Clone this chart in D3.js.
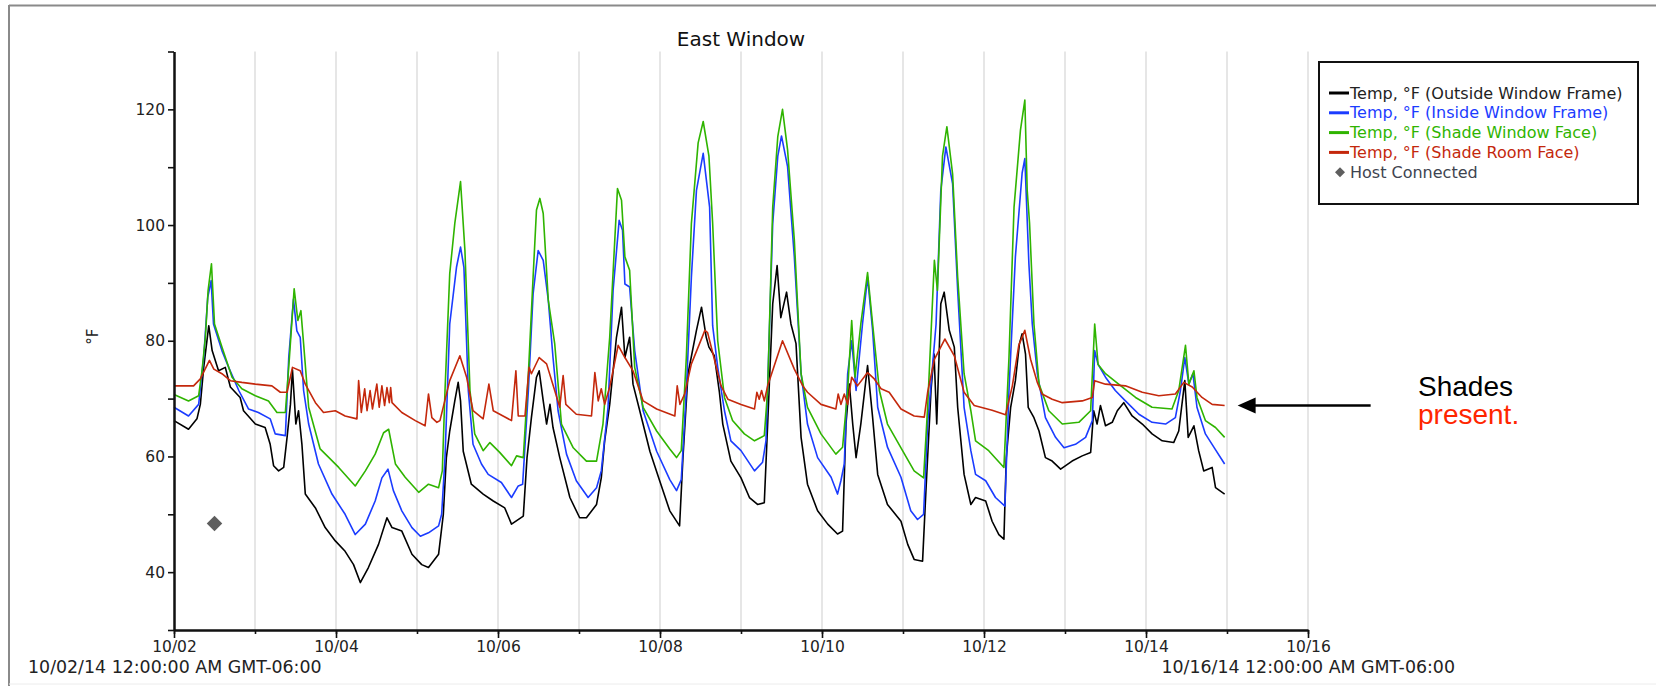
<!DOCTYPE html>
<html>
<head>
<meta charset="utf-8">
<script src="https://cdn.jsdelivr.net/npm/d3@7"></script>
<style>
  body { margin: 0; background: #fff; }
  text { font-family: "DejaVu Sans", sans-serif; }
</style>
</head>
<body>
<div id="chart"></div>
<script>
// Data: [hours since 10/02/14 00:00, °F]
// ================================
var outsideFrame = [[0,66.2],[4.3,64.7],[6.8,66.5],[7.8,69],[8.8,75.4],[10.3,82.6],[11.3,78.3],[13.2,74.8],[15.2,75.4],[16.7,72],[19.6,70.2],[20.6,67.9],[24.1,65.6],[27,65],[28.5,62.1],[29.5,58.4],[31,57.5],[32.5,58.1],[33.5,63.3],[34.5,69],[35.1,75],[36.1,65.6],[36.9,67.9],[37.9,62.1],[38.9,53.5],[41.9,51.1],[44.8,47.7],[47.8,45.4],[50.7,43.6],[53.2,41.3],[55.2,38.2],[57.6,40.8],[60.6,44.8],[63.1,49.4],[64.6,47.7],[67.5,47.1],[70.5,43.1],[73.4,41.3],[75.4,40.8],[78.4,43.1],
  [79.8,50],[80.7,59.8],[81.7,64.4],[83.2,69.6],[84.2,72.8],[84.9,69.6],[85.7,60.9],[88.1,55.2],[91.6,53.5],[94.6,52.3],[98,51.1],[100,48.3],[103.5,49.7],[104.6,59.8],[105.9,66.7],[107.4,73.7],[108.2,74.8],[109.4,69.6],[110.4,65.6],[111.4,69],[112.3,65],[114.3,59.8],[117.3,52.9],[120.2,49.4],[122.2,49.4],[125.2,51.7],[126.6,56.3],[127.6,62.7],[129.1,69],[131.1,80.6],[132.6,85.8],[133.6,77.1],[135,80.6],[136,72.5],[138,67.9],[141,60.9],[143.9,55.8],[146.9,50.6],[149.8,48],[150.8,59.8],[152.3,74.3],[154.8,81.8],[156.3,85.8],[157.7,80.6],[158.5,78.9],
  [160.1,77.4],[161.6,71.1],[162.6,65.6],[165,59.2],[168,56.3],[170.5,52.9],[172.9,51.7],[174.9,52],[175.9,65.6],[177.4,86.4],[178.7,93],[179.8,84],[181.5,88.4],[182.8,82.9],[184.3,79.5],[185.8,63.3],[187.7,55.2],[190.7,50.6],[193.7,48.3],[196.6,46.6],[198.1,47.1],[199.1,65.6],[200.1,72.5],[201.1,65.6],[202.1,59.8],[203.5,65.6],[205.5,75.7],[207,66.7],[208.5,56.9],[211.4,51.7],[215.4,48.8],[217.4,44.8],[219.3,42.2],[221.8,41.9],[222.8,54.1],[224.3,71.4],[225.2,77.7],[226,65.6],[227.2,86.4],[228.2,88.4],[229.7,81.8],[231.2,78.9],[232.2,68.5],[234.1,56.9],[236.1,51.7],
  [237.5,52.9],[240.5,52.3],[242.4,48.8],[244.4,46.5],[245.9,45.7],[246.6,59.8],[247.9,68.5],[249.3,73.1],[250.5,79.5],[251.3,81.2],[252.3,77.7],[253.1,68.5],[254.8,66.7],[256.3,64.4],[258.2,59.8],[260.2,59.2],[262.7,57.8],[266.1,59.2],[269.1,60.1],[271.6,60.7],[272.5,67.9],[273.5,65.6],[274.5,68.8],[276,65.3],[278,65.9],[279.5,67.9],[281.4,69.3],[283.9,67],[286.9,65.6],[289.8,63.9],[292.8,62.7],[296.2,62.4],[297.7,64.4],[299.5,73.1],[300.5,63.3],[302.2,65.3],[303.6,61],[305.1,57.5],[307.6,58.1],[308.6,54.6],[311.3,53.5]];

var insideFrame = [[0,68.5],[4.3,67],[7.3,69],[8.8,77.1],[10,87.5],[11,90.4],[11.7,82.9],[14.2,78.3],[16.2,75.4],[19.2,71.4],[22.1,68.2],[25,67.6],[28.5,66.5],[30,63.9],[33,63.6],[34,77.1],[35.4,87.2],[36.4,81.7],[37.4,80.6],[38.4,71.4],[39.9,65.6],[42.8,58.7],[46.8,53.5],[50.7,50],[53.7,46.5],[56.7,48.3],[59.6,52.3],[61.6,56.3],[63.4,57.8],[65,54.1],[67.5,50.6],[70.5,47.7],[73,46.2],[75.4,46.8],[78.4,48],
  [79.3,50],[80.3,59.8],[81.7,82.9],[83.7,92.7],[84.9,96.2],[85.9,92.7],[87.2,71.4],[88.6,62.1],[91.1,58.7],[93.1,56.9],[97,55.5],[100,52.9],[102,54.9],[103.3,55.2],[105,71.4],[106.4,88.1],[107.9,95.6],[109.4,93.9],[110.9,87],[112.3,77.1],[113.8,67.9],[116.3,60.4],[119.2,55.8],[122.7,52.9],[125.2,54.6],[126.6,57.5],[128.6,68.5],[130.1,88.7],[131.9,100.8],[132.9,99.1],[133.6,89.8],[135,89.3],[136.5,78.3],[139,67.9],[143,60.9],[146.9,56],[148.9,54.1],[150.3,56],[151.8,71.4],[153.3,91],[154.8,106],[156.8,112.4],[158.7,103.1],
  [159.6,82.6],[161.1,75.4],[163.1,67.9],[165,62.7],[168,61],[172,57.5],[174.4,59],[175.4,62.7],[177.4,100.3],[178.9,111.9],[180,115.4],[181.8,110.1],[183.8,94.5],[185.8,74.3],[187.7,65.6],[190.7,59.8],[194.7,56.4],[196.6,53.5],[197.6,55.8],[198.6,58.7],[199.6,74.3],[200.8,80],[202.1,71.4],[204,82.9],[205.5,91],[207,81.8],[208.5,68.5],[211.4,61.6],[215.4,56.4],[218.3,50.6],[220.3,49.1],[222.1,50],[223.3,65.6],[225.8,82.9],[227.2,106],[228.7,113.5],[230.7,107.1],[232.2,88.7],[234.1,68.5],[236.1,61],
  [237.5,56.9],[240.5,55.8],[243.4,52.9],[246.2,51.4],[247.4,71.4],[249.3,94.5],[251.3,109],[252.1,111.5],[253.3,93.3],[254.3,82.9],[255.8,74.3],[258.2,66.7],[261.2,63.3],[263.7,61.5],[267.1,62.1],[270.1,63.3],[272.1,66.2],[272.8,78.3],[273.8,75.9],[276,73.7],[278.9,71.4],[281.9,69.6],[285.9,67.3],[289.8,65.9],[293.8,65.6],[296.7,66.7],[298.2,71.4],[299.5,77.1],[300.7,72.5],[301.9,74.3],[303.1,68.5],[305.6,63.9],[308.1,61.6],[311.3,58.7]];

var shadeWindowFace = [[0,70.7],[4.3,69.6],[7.3,70.5],[8.3,74.8],[9.3,80.6],[10.1,88.7],[11.1,93.3],[12,82.9],[14.2,78.9],[17.2,73.7],[20.1,71.7],[24.1,70.5],[28,69.6],[30.5,67.6],[33,67.6],[34.2,77.1],[35.6,89],[36.7,83.5],[37.6,85.2],[38.4,79.5],[39.9,68.5],[43.3,61.3],[48.8,58.1],[53.7,54.9],[56.7,57.5],[59.6,60.4],[62.1,64.1],[63.6,64.7],[65.6,58.7],[68.5,56.4],[72.5,53.8],[75.4,55.2],[78.4,54.6],
  [79.5,57.5],[80.3,71.4],[81.7,91.6],[83.2,100.3],[84.9,107.5],[86.2,95.6],[87.7,71.4],[89.1,63.9],[91.6,61],[93.6,62.4],[96.5,60.7],[100,58.4],[101.5,60.1],[103.5,59.8],[105,74.3],[106.4,91],[107.4,102.6],[108.4,104.6],[109.4,102],[110.9,87],[112.8,79.5],[114.8,65.6],[118.3,61.5],[122.2,59.2],[125.2,59.2],[127.1,65.6],[129.1,80.6],[130.6,97.4],[131.4,106.3],[132.6,104.3],[133.6,94.5],[135,92.2],[136.5,75.4],[139,68.5],[143,64.4],[146.9,61.3],[148.9,59.8],[150.3,61],[151.8,77.1],[153.3,100.3],[155.3,114.2],[156.8,117.9],[158.5,111.9],
  [159.6,100.3],[161.1,80],[163.1,70.2],[165.5,66.2],[169,63.9],[172,62.7],[174.9,63.6],[175.9,71.4],[177.4,103.1],[178.9,115.3],[180.3,120],[181.8,113],[183.8,97.4],[185.8,74.3],[187.7,68.5],[191.7,63.9],[196.1,60.4],[198.1,61.6],[199.6,71.4],[200.8,83.5],[201.8,73.7],[203.5,82.9],[205.5,91.8],[207,82.9],[209,71.4],[211.4,65.6],[215.4,61.5],[219.3,57.5],[222.1,56.3],[223.3,68.5],[225.3,93.9],[226.2,88.7],[227.7,111.9],[229,117],[230.7,108.8],[232.2,91],[234.1,74.3],[236.1,67.9],
  [237.5,62.7],[241.4,61],[245.9,58.1],[247.4,77.1],[248.9,103.1],[250.8,116.4],[252.1,121.6],[252.8,106],[253.5,100.3],[254.8,82.9],[256.3,72.5],[259.2,67.9],[263.2,65.6],[268.1,65.9],[271.6,67.9],[272.8,82.9],[273.8,75.9],[276,74.3],[279.9,72.5],[284.9,70.2],[289.8,68.5],[295.7,68.2],[297.7,71.4],[299.7,79.2],[300.7,72.5],[302.2,74.8],[303.1,70.2],[305.6,66.2],[308.6,65],[311.3,63.3]];

var shadeRoomFace = [[0,72.2],[5.8,72.2],[7.8,73.4],[10.5,76.6],[11.8,75.1],[14.2,74.3],[16.7,73.1],[20.1,72.8],[24.1,72.5],[29,72.2],[31.5,71.1],[33.5,71.1],[35.1,75.4],[37.4,74.8],[38.9,72.5],[41.9,69.3],[44.3,67.6],[47.8,67.9],[50.7,67],[54.2,66.5],[54.7,73.1],[55.5,67.6],[56.5,71.7],[57.2,67.9],[58.1,71.4],[58.8,68.2],[60.1,72.5],[60.8,68.5],[61.6,72.2],[62.4,68.8],[63.1,71.9],[63.8,69.3],[64.2,71.9],[64.6,69.3],[67.5,67.6],[71.5,66.2],[74.4,65.3],[75.4,70.8],[76.4,66.7],[77.9,65.9],
  [78.8,66.2],[81.7,73.1],[84.7,77.4],[86.7,73.7],[88.6,67.9],[91.6,66.5],[93.3,72.5],[94.6,67.9],[97.5,67],[100,66.2],[101.3,74.8],[102,67],[104,67],[105.2,75.4],[105.9,74.3],[108.2,77.1],[110.4,76],[112.8,71.4],[114.3,68.5],[115.3,74],[116.1,69],[119.2,67.3],[123.7,67],[124.7,74.5],[125.7,69.6],[126.6,71.7],[127.6,69],[129.1,72],[131.6,79.2],[133.6,77.1],[136,74.8],[139,69.6],[143,68.2],[148.4,67],[149.1,72.2],[149.9,69],[151.3,70.8],[153.3,76],[157.3,81.8],
  [158.1,81.4],[160.1,76.8],[162.1,72.2],[164.1,69.9],[168,69],[172,68.2],[172.7,71.1],[173.4,69.9],[174.1,71.4],[174.9,69.6],[175.9,72.2],[180.3,80],[183.8,75.1],[186.3,72.2],[187.7,71.1],[191.7,69],[196.1,68.2],[196.8,70.8],[197.6,69],[198.6,70.8],[199.6,69],[200.8,73.7],[202.5,72.2],[205.5,74.5],[207.5,73.4],[209.5,71.7],[211.9,71.1],[215.4,68.2],[219.3,67],[222.3,66.8],[223.3,71.1],[225.3,76.8],[228.4,80.3],[231.2,77.4],[234.1,71.1],[237.1,68.8],
  [242.4,68],[246.4,67.2],[248.4,72.2],[250.3,79.2],[252.1,81.8],[253.8,76.8],[255.8,72.8],[257.2,70.8],[260.2,69.9],[263.2,69.3],[269.1,69.6],[272.1,70.2],[272.8,73.1],[276,72.5],[281.9,72.2],[286.9,71.1],[291.8,70.5],[296.7,70.8],[299.2,72.8],[301.7,72],[304.6,70.2],[307.6,69],[311.3,68.8]];

var hostConnected = [[12,48.4]];

var seriesNames = ["Temp, °F (Outside Window Frame)", "Temp, °F (Inside Window Frame)",
  "Temp, °F (Shade Window Face)", "Temp, °F (Shade Room Face)"];
var seriesColors = ["#000000", "#1b3cff", "#2fb400", "#c4280c"];
var yMajorTicks = [40, 60, 80, 100, 120];
var yMinorTicks = [30, 50, 70, 90, 110, 130];

// Chart setup
// ================================
var svgWidth = 1656;
var svgHeight = 686;
var margin = { top: 51.5, right: 348, bottom: 56, left: 174 };
var width = svgWidth - margin.left - margin.right;
var height = svgHeight - margin.top - margin.bottom;

var start = new Date(Date.UTC(2014, 9, 2));
var end = new Date(Date.UTC(2014, 9, 16));
var toDate = h => new Date(start.getTime() + h * 3600e3);

var svg = d3.select("#chart").append("svg")
  .attr("width", svgWidth)
  .attr("height", svgHeight);

// outer frame
svg.append("line").attr("x1", 9).attr("x2", svgWidth).attr("y1", 5.5).attr("y2", 5.5)
  .attr("stroke", "#8a8a8a").attr("stroke-width", 2);
svg.append("line").attr("x1", 9).attr("x2", 9).attr("y1", 5).attr("y2", svgHeight)
  .attr("stroke", "#8a8a8a").attr("stroke-width", 2);
svg.append("line").attr("x1", 9).attr("x2", svgWidth).attr("y1", 684).attr("y2", 684)
  .attr("stroke", "#ececec").attr("stroke-width", 1);

var chartGroup = svg.append("g")
  .attr("transform", `translate(${margin.left}, ${margin.top})`);

var xScale = d3.scaleUtc().domain([start, end]).range([0, width]);
var yScale = d3.scaleLinear().domain([30, 130]).range([height, 0]);

var allDays = d3.utcDay.range(start, d3.utcDay.offset(end, 1));
var labelDays = allDays.filter((d, i) => i % 2 === 0);

// vertical day gridlines
chartGroup.selectAll(".grid").data(allDays.slice(1)).enter().append("line")
  .attr("class", "grid")
  .attr("x1", d => xScale(d)).attr("x2", d => xScale(d))
  .attr("y1", 0).attr("y2", height)
  .attr("stroke", "#dedede").attr("stroke-width", 1.5);

// series lines
var line = d3.line()
  .x(d => xScale(toDate(d[0])))
  .y(d => yScale(d[1]));

[outsideFrame, insideFrame, shadeWindowFace, shadeRoomFace].forEach(function(data, i) {
  chartGroup.append("path")
    .datum(data)
    .attr("d", line)
    .attr("fill", "none")
    .attr("stroke", seriesColors[i])
    .attr("stroke-width", 1.6)
    .attr("stroke-linejoin", "round");
});

// host connected marker
chartGroup.selectAll(".host").data(hostConnected).enter().append("path")
  .attr("d", d3.symbol(d3.symbolSquare, 120)())
  .attr("transform", d => `translate(${xScale(toDate(d[0]))}, ${yScale(d[1])}) rotate(45)`)
  .attr("fill", "#5e5e5e");

// axes
var minorX = chartGroup.append("g")
  .attr("transform", `translate(0, ${height})`)
  .call(d3.axisBottom(xScale).tickValues(allDays)
    .tickSize(4).tickSizeOuter(0).tickFormat(""));
var majorX = chartGroup.append("g")
  .attr("transform", `translate(0, ${height})`)
  .call(d3.axisBottom(xScale).tickValues(labelDays)
    .tickSize(8).tickSizeOuter(0).tickPadding(3).tickFormat(d3.utcFormat("%m/%d")));
var minorY = chartGroup.append("g")
  .call(d3.axisLeft(yScale).tickValues(yMinorTicks).tickSize(6).tickSizeOuter(0).tickFormat(""));
var majorY = chartGroup.append("g")
  .call(d3.axisLeft(yScale).tickValues(yMajorTicks).tickSize(6).tickSizeOuter(0).tickPadding(3));

[minorX, majorX, minorY, majorY].forEach(function(g) {
  g.select(".domain").attr("stroke", "#111").attr("stroke-width", 2);
  g.selectAll(".tick line").attr("stroke", "#111").attr("stroke-width", 1.6);
  g.selectAll(".tick text").attr("fill", "#222").style("font-size", "15.5px")
    .style("font-family", "DejaVu Sans, sans-serif");
});

// date range labels
svg.append("text")
  .attr("x", 28).attr("y", 673)
  .attr("fill", "#222").style("font-size", "17.4px")
  .text("10/02/14 12:00:00 AM GMT-06:00");
svg.append("text")
  .attr("x", 1455).attr("y", 673)
  .attr("text-anchor", "end")
  .attr("fill", "#222").style("font-size", "17.4px")
  .text("10/16/14 12:00:00 AM GMT-06:00");

// title
chartGroup.append("text")
  .attr("x", width / 2).attr("y", -6)
  .attr("text-anchor", "middle")
  .attr("fill", "#111").style("font-size", "20px")
  .text("East Window");

// y axis label
chartGroup.append("text")
  .attr("transform", "rotate(-90)")
  .attr("x", -(height / 2) + 4).attr("y", 92 - margin.left + 6)
  .attr("text-anchor", "middle")
  .attr("fill", "#222").style("font-size", "15px")
  .text("°F");

// legend
var legend = svg.append("g").attr("transform", "translate(1319, 62)");
legend.append("rect")
  .attr("width", 319).attr("height", 142)
  .attr("fill", "#fff").attr("stroke", "#111").attr("stroke-width", 2);
var legendItems = legend.selectAll(".item").data(seriesNames).enter().append("g")
  .attr("transform", (d, i) => `translate(0, ${31 + i * 19.8})`);
legendItems.append("line")
  .attr("x1", 10).attr("x2", 30).attr("y1", 0).attr("y2", 0)
  .attr("stroke", (d, i) => seriesColors[i]).attr("stroke-width", 3);
legendItems.append("text")
  .attr("x", 31).attr("y", 5.5)
  .attr("fill", (d, i) => i === 0 ? "#222" : seriesColors[i])
  .style("font-size", "16px")
  .text(d => d);
var hostItem = legend.append("g").attr("transform", `translate(0, ${31 + 4 * 19.8})`);
hostItem.append("path")
  .attr("d", d3.symbol(d3.symbolSquare, 50)())
  .attr("transform", "translate(21, 0) rotate(45)")
  .attr("fill", "#5e5e5e");
hostItem.append("text")
  .attr("x", 31).attr("y", 5.5)
  .attr("fill", "#3e4450").style("font-size", "16px")
  .text("Host Connected");

// annotation
var lastRoom = shadeRoomFace[shadeRoomFace.length - 1];
var tipX = margin.left + xScale(toDate(lastRoom[0])) + 13;
var tipY = margin.top + yScale(lastRoom[1]);
svg.append("line")
  .attr("x1", tipX + 16).attr("x2", tipX + 133)
  .attr("y1", tipY).attr("y2", tipY)
  .attr("stroke", "#000").attr("stroke-width", 2.5);
svg.append("path")
  .attr("d", `M${tipX},${tipY} L${tipX + 18},${tipY - 8} L${tipX + 18},${tipY + 8} Z`)
  .attr("fill", "#000");
svg.append("text")
  .attr("x", 1418).attr("y", 396)
  .style("font-family", "Liberation Sans, Arial, sans-serif").style("font-size", "28px")
  .attr("fill", "#000")
  .text("Shades");
svg.append("text")
  .attr("x", 1418).attr("y", 424)
  .style("font-family", "Liberation Sans, Arial, sans-serif").style("font-size", "28px")
  .attr("fill", "#ff2600")
  .text("present.");
</script>
</body>
</html>
